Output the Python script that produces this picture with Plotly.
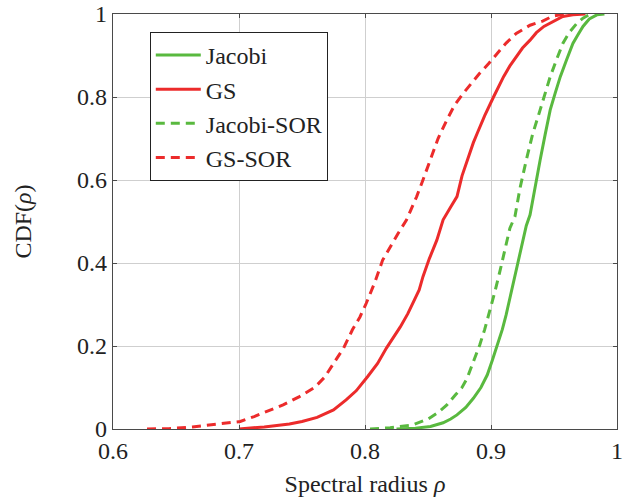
import plotly.graph_objects as go

# Empirical CDFs of the spectral radius for each iteration scheme
gs_x = [0.700, 0.720, 0.740, 0.750, 0.762, 0.775, 0.785, 0.793, 0.802, 0.810,
        0.817, 0.823, 0.828, 0.834, 0.838, 0.843, 0.846, 0.851, 0.857, 0.862,
        0.868, 0.873, 0.877, 0.881, 0.886, 0.889, 0.895, 0.902, 0.906, 0.910,
        0.915, 0.920, 0.925, 0.931, 0.936, 0.942, 0.950, 0.957, 0.965, 0.975]
gs_y = [0.000, 0.005, 0.012, 0.018, 0.028, 0.046, 0.070, 0.092, 0.126, 0.158,
        0.195, 0.222, 0.246, 0.278, 0.303, 0.335, 0.367, 0.410, 0.455, 0.504,
        0.535, 0.560, 0.610, 0.648, 0.690, 0.712, 0.755, 0.800, 0.825, 0.849,
        0.875, 0.897, 0.918, 0.937, 0.955, 0.970, 0.982, 0.994, 0.998, 1.000]

gs_sor_x = [0.627, 0.645, 0.663, 0.680, 0.690, 0.701, 0.712, 0.722, 0.735, 0.748,
            0.760, 0.768, 0.775, 0.783, 0.790, 0.796, 0.801, 0.808, 0.814, 0.820,
            0.826, 0.833, 0.841, 0.846, 0.852, 0.858, 0.865, 0.871, 0.878, 0.885,
            0.891, 0.898, 0.905, 0.912, 0.920, 0.931, 0.941, 0.949, 0.955, 0.960]
gs_sor_y = [0.000, 0.001, 0.005, 0.010, 0.013, 0.018, 0.030, 0.042, 0.058, 0.078,
            0.100, 0.125, 0.159, 0.195, 0.239, 0.270, 0.303, 0.355, 0.407, 0.440,
            0.470, 0.504, 0.560, 0.600, 0.648, 0.700, 0.745, 0.780, 0.809, 0.835,
            0.857, 0.880, 0.905, 0.930, 0.953, 0.973, 0.983, 0.995, 0.998, 1.000]

jac_x = [0.825, 0.840, 0.852, 0.862, 0.868, 0.873, 0.880, 0.886, 0.892, 0.897,
         0.901, 0.905, 0.909, 0.912, 0.916, 0.920, 0.924, 0.928, 0.931, 0.935,
         0.939, 0.943, 0.947, 0.951, 0.955, 0.960, 0.965, 0.969, 0.973, 0.978,
         0.984, 0.990]
jac_y = [0.000, 0.002, 0.006, 0.015, 0.024, 0.034, 0.052, 0.074, 0.100, 0.130,
         0.165, 0.202, 0.240, 0.275, 0.330, 0.387, 0.440, 0.490, 0.516, 0.585,
         0.648, 0.710, 0.769, 0.810, 0.849, 0.890, 0.929, 0.950, 0.970, 0.988,
         0.998, 1.000]

jac_sor_x = [0.804, 0.820, 0.838, 0.850, 0.858, 0.865, 0.872, 0.877, 0.881, 0.886,
             0.891, 0.895, 0.899, 0.903, 0.907, 0.911, 0.915, 0.919, 0.923, 0.928,
             0.933, 0.939, 0.943, 0.947, 0.952, 0.957, 0.962, 0.968, 0.973, 0.979]
jac_sor_y = [0.000, 0.003, 0.010, 0.024, 0.040, 0.058, 0.083, 0.100, 0.122, 0.160,
             0.202, 0.240, 0.283, 0.330, 0.379, 0.430, 0.484, 0.512, 0.580, 0.648,
             0.710, 0.769, 0.810, 0.849, 0.890, 0.929, 0.955, 0.977, 0.990, 1.000]

x_ticks = [0.6, 0.7, 0.8, 0.9, 1.0]
x_tick_text = ["0.6", "0.7", "0.8", "0.9", "1"]
y_ticks = [0, 0.2, 0.4, 0.6, 0.8, 1.0]
y_tick_text = ["0", "0.2", "0.4", "0.6", "0.8", "1"]

GREEN = "#59B93F"
RED = "#EC2B2B"
SERIF = "Liberation Serif"
TEXT = "#222222"

series = [
    ("Jacobi", jac_x, jac_y, GREEN, "solid"),
    ("GS", gs_x, gs_y, RED, "solid"),
    ("Jacobi-SOR", jac_sor_x, jac_sor_y, GREEN, "9px,6px"),
    ("GS-SOR", gs_sor_x, gs_sor_y, RED, "9px,6px"),
]

fig = go.Figure()
for name, xs, ys, color, dash in series:
    fig.add_trace(go.Scatter(
        x=xs, y=ys, name=name, mode="lines",
        line=dict(color=color, width=3, dash=dash),
        cliponaxis=False,
    ))

fig.update_xaxes(
    range=[0.6, 1.0], tickvals=x_ticks, ticktext=x_tick_text,
    tickfont=dict(family=SERIF, size=24, color=TEXT),
    title=dict(text="Spectral radius <i>ρ</i>", standoff=12,
               font=dict(family=SERIF, size=24, color=TEXT)),
)
fig.update_yaxes(
    range=[0, 1.0], tickvals=y_ticks, ticktext=y_tick_text,
    tickfont=dict(family=SERIF, size=24, color=TEXT),
    title=dict(text="CDF(<i>ρ</i>)", standoff=38,
               font=dict(family=SERIF, size=24, color=TEXT)),
)
# shared frame, grid and tick styling
fig.update_xaxes(showgrid=True, gridcolor="#cfcfcf", gridwidth=1,
                 showline=True, linecolor="#4a4a4a", linewidth=1.2, mirror="ticks",
                 ticks="inside", ticklen=4, tickcolor="#4a4a4a",
                 zeroline=False, automargin=False)
fig.update_yaxes(showgrid=True, gridcolor="#cfcfcf", gridwidth=1,
                 showline=True, linecolor="#4a4a4a", linewidth=1.2, mirror="ticks",
                 ticks="inside", ticklen=4, tickcolor="#4a4a4a",
                 zeroline=False, automargin=False)

fig.update_layout(
    width=625, height=502,
    margin=dict(l=113, r=8, t=14, b=73),
    plot_bgcolor="white", paper_bgcolor="white",
    legend=dict(x=0.073, y=0.957, xanchor="left", yanchor="top",
                bordercolor=TEXT, borderwidth=1, bgcolor="white",
                font=dict(family=SERIF, size=24, color=TEXT),
                tracegroupgap=0, itemwidth=45),
    showlegend=True,
)

fig.write_html("out.html")
